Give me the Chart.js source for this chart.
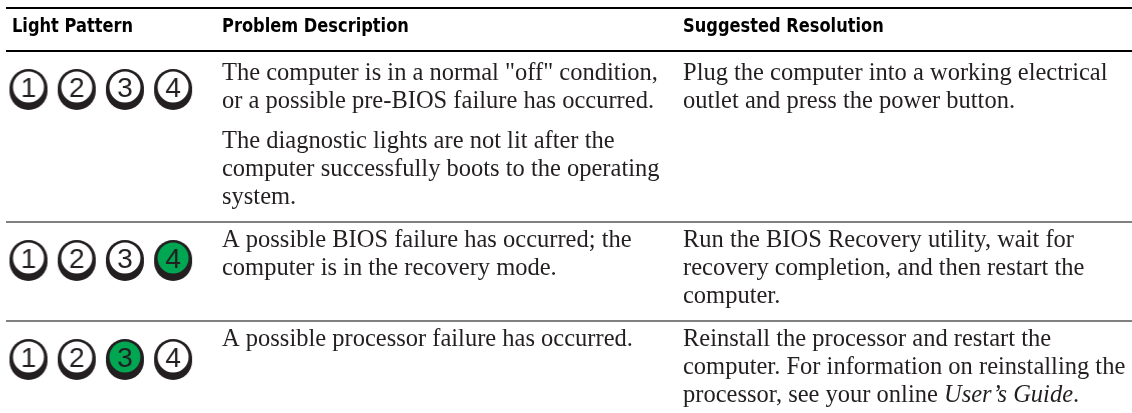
<!DOCTYPE html>
<html>
<head>
<meta charset="utf-8">
<script src="https://cdn.jsdelivr.net/npm/chart.js@4.4.1/dist/chart.umd.min.js"></script>
<style>
  html, body { margin: 0; padding: 0; background: #fff; }
</style>
</head>
<body>
<canvas id="table" width="1132" height="413"></canvas>
<script>
// table content
let headers = ["Light Pattern", "Problem Description", "Suggested Resolution"];
let lightLabels = ["1", "2", "3", "4"];
// 1 = light is lit (green), 0 = off
let patterns = [
    [0, 0, 0, 0],
    [0, 0, 0, 1],
    [0, 0, 1, 0]
];
// each row: list of paragraphs, each paragraph: list of lines (_text_ = italic)
let problems = [
    [["The computer is in a normal \"off\" condition,", "or a possible pre-BIOS failure has occurred."],
     ["The diagnostic lights are not lit after the", "computer successfully boots to the operating", "system."]],
    [["A possible BIOS failure has occurred; the", "computer is in the recovery mode."]],
    [["A possible processor failure has occurred."]]
];
let resolutions = [
    [["Plug the computer into a working electrical", "outlet and press the power button."]],
    [["Run the BIOS Recovery utility, wait for", "recovery completion, and then restart the", "computer."]],
    [["Reinstall the processor and restart the", "computer. For information on reinstalling the", "processor, see your online _User\u2019s Guide_."]]
];

let inkColor = "#231f20";
let litColor = "#00a651";
let ruleGray = "#808080";
let headFont = "bold 20px 'DejaVu Sans Condensed', 'Liberation Sans Narrow', sans-serif";
let headWidth = 121; // width of "Light Pattern" in the picture
let bodySize = 24.5;
let bodyFamily = "'Liberation Serif', serif";
let digitFont = "28px 'Liberation Sans', Arial, sans-serif";

let colX = [12, 222, 683];
let lineHeight = 28;
let paraGap = 12;
let headRuleY = 51;
let lightStep = 48.2;
let lightX0 = 28.5;

// work out the rows from the line counts
function layoutRows() {
    let rows = [];
    let top = headRuleY;
    for (let r = 0; r < problems.length; r++) {
        let first = top + (r === 0 ? 29 : 25);
        let cols = [problems[r], resolutions[r]];
        let last = first;
        let placed = cols.map(paras => {
            let y = first;
            let lines = [];
            paras.forEach((p, pi) => {
                if (pi > 0) y += paraGap;
                p.forEach(line => { lines.push({ text: line, y: y }); last = Math.max(last, y); y += lineHeight; });
            });
            return lines;
        });
        let bottom = last + 18;
        rows.push({ top: top, bottom: bottom, lightY: top + 37, cols: placed });
        top = bottom;
    }
    return rows;
}
let rows = layoutRows();

// one small canvas per light, used as the point style
function makeLight(label, lit) {
    let c = document.createElement("canvas");
    c.width = 44; c.height = 50;
    let g = c.getContext("2d");
    let cx = 22, cy = 25;
    g.fillStyle = inkColor;
    g.beginPath(); g.arc(cx, cy, 19, 0, Math.PI * 2); g.fill();
    g.beginPath(); g.arc(cx, cy + 3, 19, 0, Math.PI * 2); g.fill();
    g.fillStyle = lit ? litColor : "#ffffff";
    g.beginPath(); g.arc(cx, cy - 1, 15.5, 0, Math.PI * 2); g.fill();
    g.fillStyle = inkColor;
    g.font = digitFont;
    g.textAlign = "center";
    g.textBaseline = "alphabetic";
    g.fillText(label, cx, cy - 1 + 10);
    return c;
}

let lightPoints = [];
let lightImages = [];
patterns.forEach((pat, r) => {
    pat.forEach((on, i) => {
        lightPoints.push({ x: lightX0 + i * lightStep, y: rows[r].lightY });
        lightImages.push(makeLight(lightLabels[i], on === 1));
    });
});

function drawRich(ctx, text, x, y) {
    let parts = text.split("_");
    parts.forEach((part, k) => {
        ctx.font = (k % 2 === 1 ? "italic " : "") + bodySize + "px " + bodyFamily;
        ctx.fillText(part, x, y);
        x += ctx.measureText(part).width;
    });
}

let tablePlugin = {
    id: "tableText",
    beforeDatasetsDraw(chart) {
        let ctx = chart.ctx;
        let xs = chart.scales.x, ys = chart.scales.y;
        let left = xs.getPixelForValue(6), right = xs.getPixelForValue(1132);
        ctx.save();
        // rules
        ctx.fillStyle = "#000000";
        ctx.fillRect(left, ys.getPixelForValue(7), right - left, 2);
        ctx.fillRect(left, ys.getPixelForValue(headRuleY - 1), right - left, 2);
        ctx.fillStyle = ruleGray;
        rows.slice(0, -1).forEach(row => {
            ctx.fillRect(left, ys.getPixelForValue(row.bottom - 1), right - left, 2);
        });
        // header, squeezed to the condensed face of the picture
        ctx.fillStyle = "#000000";
        ctx.font = headFont;
        ctx.textBaseline = "alphabetic";
        let squeeze = headWidth / ctx.measureText(headers[0]).width;
        headers.forEach((h, i) => {
            ctx.save();
            ctx.translate(xs.getPixelForValue(colX[i]), ys.getPixelForValue(32));
            ctx.scale(squeeze, 1);
            ctx.fillText(h, 0, 0);
            ctx.restore();
        });
        // body
        ctx.fillStyle = inkColor;
        rows.forEach(row => {
            row.cols.forEach((lines, c) => {
                lines.forEach(l => drawRich(ctx, l.text, xs.getPixelForValue(colX[c + 1]), ys.getPixelForValue(l.y)));
            });
        });
        ctx.restore();
    }
};

new Chart("table", {
    type: "scatter",
    data: {
        datasets: [{
            data: lightPoints,
            pointStyle: ctx => lightImages[ctx.dataIndex],
            pointRadius: 20
        }]
    },
    options: {
        responsive: false,
        animation: false,
        events: [],
        layout: { padding: 0, autoPadding: false },
        scales: {
            x: { type: "linear", min: 0, max: 1132, display: false },
            y: { type: "linear", min: 0, max: 413, reverse: true, display: false }
        },
        plugins: {
            legend: { display: false },
            tooltip: { enabled: false }
        }
    },
    plugins: [tablePlugin]
});
</script>
</body>
</html>
